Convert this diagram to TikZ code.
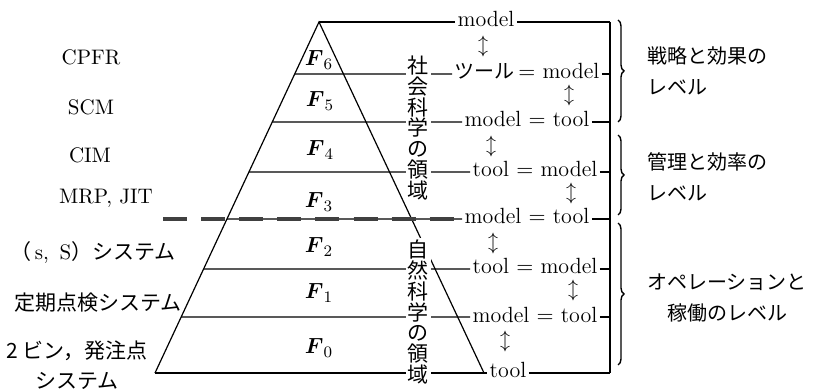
\documentclass[tikz,border=0pt]{standalone}
\usepackage{fontspec}
\usepackage{amsmath}
\usepackage{amssymb}
\newfontfamily\jp{Noto Sans CJK JP}
\usetikzlibrary{positioning,calc,decorations.pathreplacing}
\setlength{\lineskiplimit}{-10pt}

\begin{document}
\begin{tikzpicture}[
        x=0.5pt, y=-0.5pt, line width=0.6pt,
        lbl/.style  = {inner sep=1pt, font=\fontsize{10.5}{12}\selectfont},
        rlbl/.style = {inner sep=1pt, font=\fontsize{11}{12}\selectfont,
                       text height=5.5pt, text depth=0.5pt},
        flbl/.style = {lbl, font=\fontsize{11}{12}\selectfont},
        ud/.style   = {inner sep=0pt, font=\fontsize{10}{11}\selectfont},
        grp/.style  = {inner sep=1pt, font=\fontsize{10}{15.5}\jp},
        col/.style  = {fill=white, inner sep=1pt, align=center,
                       font=\fontsize{10.5}{10.35}\jp},
        brc/.style  = {decorate, decoration={brace, amplitude=3pt}, line width=0.7pt},
        sep/.style  = {line width=1.8pt, black!75, dash pattern=on 12pt off 7.05pt}
    ]
    \useasboundingbox (0,0) rectangle (813,389);
    % pyramid
    \coordinate (top) at (319,22);
    \coordinate (bl)  at (155,373);
    \coordinate (br)  at (484,373);
    \draw (bl) -- (top) -- (br);
    \coordinate (e1) at ($(top)!{52/351}!(bl)$);
    \coordinate (e2) at ($(top)!{100/351}!(bl)$);
    \coordinate (e3) at ($(top)!{150/351}!(bl)$);
    \coordinate (e4) at ($(top)!{197/351}!(bl)$);
    \coordinate (e5) at ($(top)!{247/351}!(bl)$);
    \coordinate (e6) at ($(top)!{295/351}!(bl)$);
    % bar on the right
    \coordinate (b0) at (610,22);
    \coordinate (b1) at (610,74);
    \coordinate (b2) at (610,122);
    \coordinate (b3) at (610,172);
    \coordinate (b4) at (610,219);
    \coordinate (b5) at (610,269);
    \coordinate (b6) at (610,317);
    \coordinate (b7) at (610,373);
    \draw (b0) -- (b7);
    % model / tool labels
    \node[rlbl] (r0) at (486,22)  {model};
    \node[rlbl] (r1) at (527,74)  {{\jp\fontsize{10}{12}\selectfont ツール}\,$=$ model};
    \node[rlbl] (r2) at (527,122) {model $=$ tool};
    \node[rlbl] (r3) at (535,172) {tool $=$ model};
    \node[rlbl] (r4) at (527,219) {model $=$ tool};
    \node[rlbl] (r5) at (535,269) {tool $=$ model};
    \node[rlbl] (r6) at (535,317) {model $=$ tool};
    \node[rlbl] (r7) at (508,373) {tool};
    \draw (top) -- (r0);  \draw (r0) -- (b0);
    \draw (e1)  -- (r1);  \draw (r1) -- (b1);
    \draw (e2)  -- (r2);  \draw (r2) -- (b2);
    \draw (e3)  -- (r3);  \draw (r3) -- (b3);
    \draw (e4)  -- (r4);  \draw (r4) -- (b4);
    \draw (e5)  -- (r5);  \draw (r5) -- (b5);
    \draw (e6)  -- (r6);  \draw (r6) -- (b6);
    \draw (bl)  -- (r7);  \draw (r7) -- (b7);
    \coordinate (d1) at (163,219);
    \coordinate (d2) at (454,219);
    \draw[sep] (d1) -- (d2);
    % arrows between the labels
    \node[ud] (a0) at (483,47)  {$\updownarrow$};
    \node[ud] (a1) at (569,96)  {$\updownarrow$};
    \node[ud] (a2) at (491,147) {$\updownarrow$};
    \node[ud] (a3) at (571,194) {$\updownarrow$};
    \node[ud] (a4) at (493,244) {$\updownarrow$};
    \node[ud] (a5) at (573,291) {$\updownarrow$};
    \node[ud] (a6) at (505,342) {$\updownarrow$};
    % layers
    \node[flbl] (f6) at (319,60)  {$\boldsymbol{F}_6$};
    \node[flbl] (f5) at (320,101) {$\boldsymbol{F}_5$};
    \node[flbl] (f4) at (320,150) {$\boldsymbol{F}_4$};
    \node[flbl] (f3) at (319,202) {$\boldsymbol{F}_3$};
    \node[flbl] (f2) at (319,247) {$\boldsymbol{F}_2$};
    \node[flbl] (f1) at (319,293) {$\boldsymbol{F}_1$};
    \node[flbl] (f0) at (319,348) {$\boldsymbol{F}_0$};
    \node[col] (k1) at (418,128) {社\\会\\科\\学\\の\\領\\域};
    \node[col] (k2) at (418,312) {自\\然\\科\\学\\の\\領\\域};
    % left side
    \node[lbl] (cpfr) at (91,57)  {CPFR};
    \node[lbl] (scm)  at (91,107) {SCM};
    \node[lbl] (cim)  at (90,155) {CIM};
    \node[lbl] (mrp)  at (106,198) {MRP, JIT};
    \node[lbl] (ss)   at (93,253) {{\jp （}\,s,\enspace S{\jp ）システム}};
    \node[lbl] (tk)   at (98,303) {\jp 定期点検システム};
    \node[lbl, align=center, font=\fontsize{10.5}{15}\jp]
        (bin) at (77,365) {2 ビン，発注点\\システム};
    % levels
    \draw[brc] (618,20)  -- (618,122);
    \draw[brc] (618,135) -- (618,215);
    \draw[brc] (618,223) -- (618,365);
    \node[grp, align=left, anchor=west] (g1) at (645,71)  {戦略と効果の\\レベル};
    \node[grp, align=left, anchor=west] (g2) at (645,177) {管理と効率の\\レベル};
    \node[grp, align=center] (g3) at (727,298) {オペレーションと\\稼働のレベル};
\end{tikzpicture}
\end{document}
